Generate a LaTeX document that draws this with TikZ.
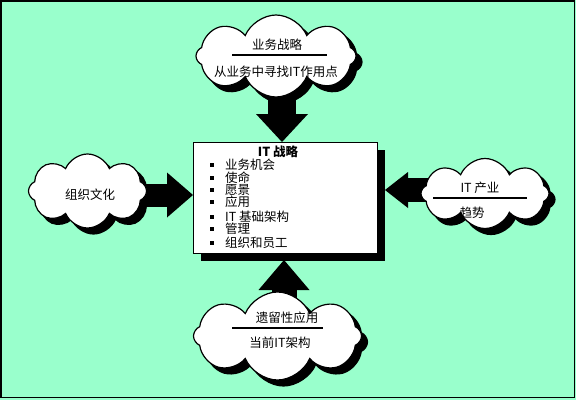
\documentclass[tikz,border=0pt]{standalone}
\usepackage{fontspec}
\setmainfont{Noto Sans CJK SC}
\usetikzlibrary{shapes.symbols,shadows,arrows.meta}
\definecolor{mint}{RGB}{153,255,204}
\begin{document}
\begin{tikzpicture}[x=1pt,y=-1pt,
  cloudbox/.style={cloud, cloud puffs=8, cloud puff arc=135, cloud ignores aspect,
    draw=black, line width=1.2pt, fill=white, inner sep=0pt,
    general shadow={fill=black, draw=black, shadow xshift=6pt, shadow yshift=-6pt}},
  lbl/.style={font=\fontsize{12.5}{14}\selectfont, inner sep=0pt},
  rule/.style={line width=1.2pt},
  blockarrow/.style n args={3}{draw=black, line width=#1, -{Triangle[width=#2,length=#3,line width=0pt]}},
  itembox/.style={draw=black, line width=1pt, fill=white, rectangle, inner sep=0pt,
    minimum width=184pt, minimum height=111pt,
    general shadow={fill=black, shadow xshift=8pt, shadow yshift=-8pt}},
  bullet/.style={fill=black, minimum size=3.5pt, inner sep=0pt, rectangle}
]
\useasboundingbox (0,0) rectangle (576,400);
\fill[mint] (0,0) rectangle (576,400);
\draw[line width=1.5pt] (1,1) rectangle (574.5,397.5);

% cloud positions
\coordinate (tcp) at (276,56);
\coordinate (lcp) at (87.5,191);
\coordinate (rcp) at (485,193.5);
\coordinate (bcp) at (277.5,336);

% arrow tips
\coordinate (ta) at (282,142);
\coordinate (la) at (193,195);
\coordinate (ra) at (385,190);
\coordinate (ba) at (284,260);

% arrows
\draw[blockarrow={28pt}{52pt}{28pt}] (tcp -| ta) -- (ta);
\draw[blockarrow={23pt}{45pt}{26pt}] (lcp |- la) -- (la);
\draw[blockarrow={24pt}{36pt}{23pt}] (rcp |- ra) -- (ra);
\draw[blockarrow={25pt}{51pt}{30pt}] (bcp -| ba) -- (ba);

% clouds
\node[cloudbox, minimum width=160pt, minimum height=82pt] (tc) at (tcp) {};
\node[cloudbox, minimum width=118pt, minimum height=74pt] (lc) at (lcp) {};
\node[cloudbox, minimum width=128pt, minimum height=70pt] (rc) at (rcp) {};
\node[cloudbox, minimum width=168pt, minimum height=88pt] (bc) at (bcp) {};

% central box
\node[itembox] (box) at (285,197.5) {};

% cloud texts
\node[lbl] (t1) at (277,45) {业务战略};
\draw[rule] (232,55) -- (327,55);
\node[lbl] (t2) at (276,72) {从业务中寻找IT作用点};

\node[lbl] (l1) at (90,195) {组织文化};

\node[lbl] (r1) at (480,188) {IT 产业};
\draw[rule] (433,198) -- (527,198);
\node[lbl] (r2) at (472,213) {趋势};

\node[lbl] (b1) at (287,318) {遗留性应用};
\draw[rule] (232,328) -- (323,328);
\node[lbl] (b2) at (280,343) {当前IT架构};

% box contents
\node[lbl, font=\fontsize{12.5}{14}\selectfont\bfseries] (title) at (278,152) {IT 战略};
\foreach \y/\t [count=\i] in {165/业务机会, 178/使命, 190/愿景, 202/应用, 217/IT 基础架构, 229/管理, 243/组织和员工}{
  \node[bullet] (bu\i) at (212,\y) {};
  \node[lbl, anchor=west] (it\i) at (225,\y) {\t};
}
\end{tikzpicture}
\end{document}
